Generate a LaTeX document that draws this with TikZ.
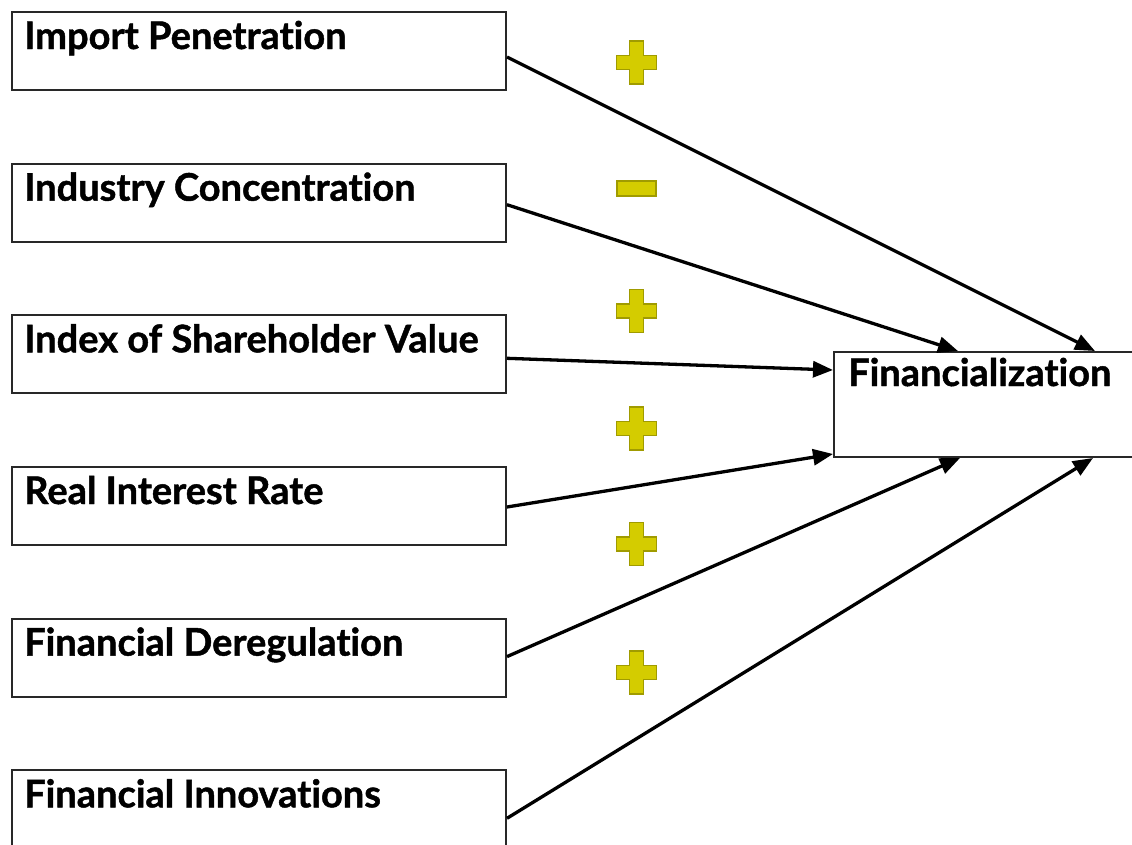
\documentclass[tikz,border=0pt]{standalone}
\usepackage{fontspec}
\setmainfont{Lato}[Ligatures=NoCommon, BoldFeatures={FakeBold=1.2}]
\usetikzlibrary{calc,arrows.meta}
\definecolor{plusfill}{RGB}{212,204,0}
\definecolor{plusedge}{RGB}{160,155,0}
\definecolor{boxedge}{RGB}{40,40,40}

\begin{document}
\begin{tikzpicture}[x=1pt,y=-1pt,
  srcbox/.style={draw=boxedge, line width=2pt, minimum width=494pt, minimum height=78pt, inner sep=0pt, anchor=north west},
  tgtbox/.style={draw=boxedge, line width=2pt, minimum width=320pt, minimum height=105pt, inner sep=0pt, anchor=north west},
  lbl/.style={font=\fontsize{38}{42}\selectfont\bfseries, anchor=base west, inner sep=0pt},
  link/.style={line width=3.3pt, -{Triangle[length=20pt,width=16pt]}},
  sign/.style={fill=plusfill, draw=plusedge, line width=1.5pt},
  plussign/.pic={\path[sign] (-7,-21.5) -- (7,-21.5) -- (7,-7) -- (20,-7) -- (20,7) -- (7,7) -- (7,21.5) -- (-7,21.5) -- (-7,7) -- (-20,7) -- (-20,-7) -- (-7,-7) -- cycle;}]
\clip (0,0) rectangle (1132,844);
\useasboundingbox (0,0) rectangle (1132,844);

% driver boxes
\node[srcbox] (b1) at (11,11) {};
\node[srcbox] (b2) at (11,162.7) {};
\node[srcbox] (b3) at (11,314.3) {};
\node[srcbox] (b4) at (11,466) {};
\node[srcbox] (b5) at (11,617.6) {};
\node[srcbox] (b6) at (11,769.3) {};

\node[lbl] (t1) at ($(b1.north west)+(13,38)$) {Import Penetration};
\node[lbl] (t2) at ($(b2.north west)+(13,38)$) {Industry Concentration};
\node[lbl] (t3) at ($(b3.north west)+(13,38)$) {Index of Shareholder Value};
\node[lbl] (t4) at ($(b4.north west)+(13,38)$) {Real Interest Rate};
\node[lbl] (t5) at ($(b5.north west)+(13,38)$) {Financial Deregulation};
\node[lbl] (t6) at ($(b6.north west)+(13,38)$) {Financial Innovations};

% outcome box
\node[tgtbox] (fin) at (833,351) {};
\node[lbl] (tf) at ($(fin.north west)+(15,35)$) {Financialization};

% effects
\draw[link] ($(b1.north east)+(0,46)$) -- ($(fin.north west)+(262,0)$);
\draw[link] ($(b2.north east)+(0,42)$) -- ($(fin.north west)+(125,0)$);
\draw[link] ($(b3.north east)+(0,44)$) -- ($(fin.north west)+(0,19)$);
\draw[link] ($(b4.north east)+(0,41)$) -- ($(fin.south west)+(0,-4)$);
\draw[link] ($(b5.north east)+(0,39)$) -- ($(fin.south west)+(127,0)$);
\draw[link] ($(b6.north east)+(0,49)$) -- ($(fin.south west)+(260,0)$);

% signs of the effects
\pic at (636.5,62.5) {plussign};
\path[sign] (617,181) rectangle (656,196);
\pic at (636.5,311) {plussign};
\pic at (636.5,428.5) {plussign};
\pic at (636.5,544) {plussign};
\pic at (636.5,672.5) {plussign};
\end{tikzpicture}
\end{document}
